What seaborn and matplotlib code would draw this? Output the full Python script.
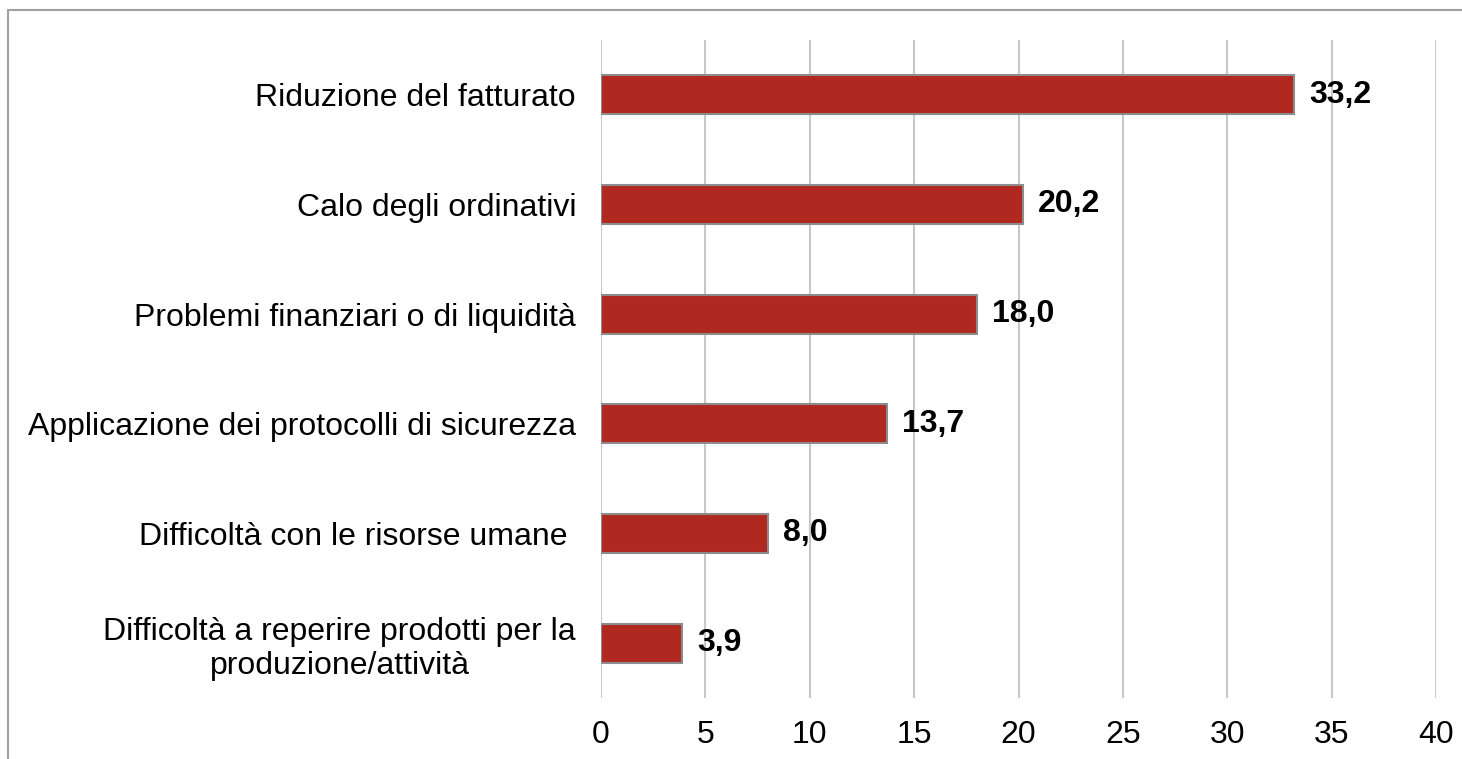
import matplotlib
matplotlib.use("Agg")
import matplotlib.pyplot as plt
from matplotlib.lines import Line2D
import pandas
import seaborn

CATEGORIES = [
    "Riduzione del fatturato",
    "Calo degli ordinativi",
    "Problemi finanziari o di liquidità",
    "Applicazione dei protocolli di sicurezza",
    "Difficoltà con le risorse umane ",
    "Difficoltà a reperire prodotti per la\nproduzione/attività",
]
VALUES = [33.2, 20.2, 18.0, 13.7, 8.0, 3.9]
XTICKS = [0, 5, 10, 15, 20, 25, 30, 35, 40]

BAR_COLOR = "#B0281F"
EDGE_COLOR = "#8C8C8C"
GRID_COLOR = "#C8C8C8"
FS = 23

seaborn.set_style("white")
plt.rcParams["font.family"] = ["Liberation Sans", "DejaVu Sans"]
plt.rcParams["text.color"] = "black"
plt.rcParams["xtick.color"] = "black"
plt.rcParams["ytick.color"] = "black"

df = pandas.DataFrame({"cat": CATEGORIES, "value": VALUES})

fig = plt.figure(figsize=(14.62, 7.59), dpi=100)
ax = fig.add_axes([0.4111, 0.0804, 0.5711, 0.8669])

seaborn.barplot(data=df, y="cat", x="value", orient="h", color=BAR_COLOR,
                saturation=1, width=0.355, edgecolor=EDGE_COLOR, linewidth=1.5, ax=ax)

ax.set_xlim(0, 40)
ax.set_ylim(5.5, -0.5)
ax.set_xticks(XTICKS)
ax.set_xticklabels([str(t) for t in XTICKS], fontsize=FS)
ax.tick_params(axis="x", length=0, pad=16)
ax.tick_params(axis="y", length=0, pad=18, labelsize=FS)
for lbl in ax.get_yticklabels():
    lbl.set_multialignment("center")
ax.set_xlabel("")
ax.set_ylabel("")
for s in ax.spines.values():
    s.set_visible(False)
ax.grid(True, axis="x", color=GRID_COLOR, linewidth=1.5)
ax.set_axisbelow(True)

for p, v in zip(ax.patches, VALUES):
    ax.annotate(f"{v:.1f}".replace(".", ","),
                (p.get_width(), p.get_y() + p.get_height() / 2),
                xytext=(15, 0), textcoords="offset pixels",
                ha="left", va="center", fontsize=FS, fontweight="bold")

# chart frame (top and left edges visible)
fig.add_artist(Line2D([8 / 1462, 1.0], [1 - 10 / 759, 1 - 10 / 759],
                      transform=fig.transFigure, color="#A0A0A0", linewidth=1.5))
fig.add_artist(Line2D([8 / 1462, 8 / 1462], [0.0, 1 - 10 / 759],
                      transform=fig.transFigure, color="#A0A0A0", linewidth=1.5))

fig.savefig("out.png", dpi=100)
